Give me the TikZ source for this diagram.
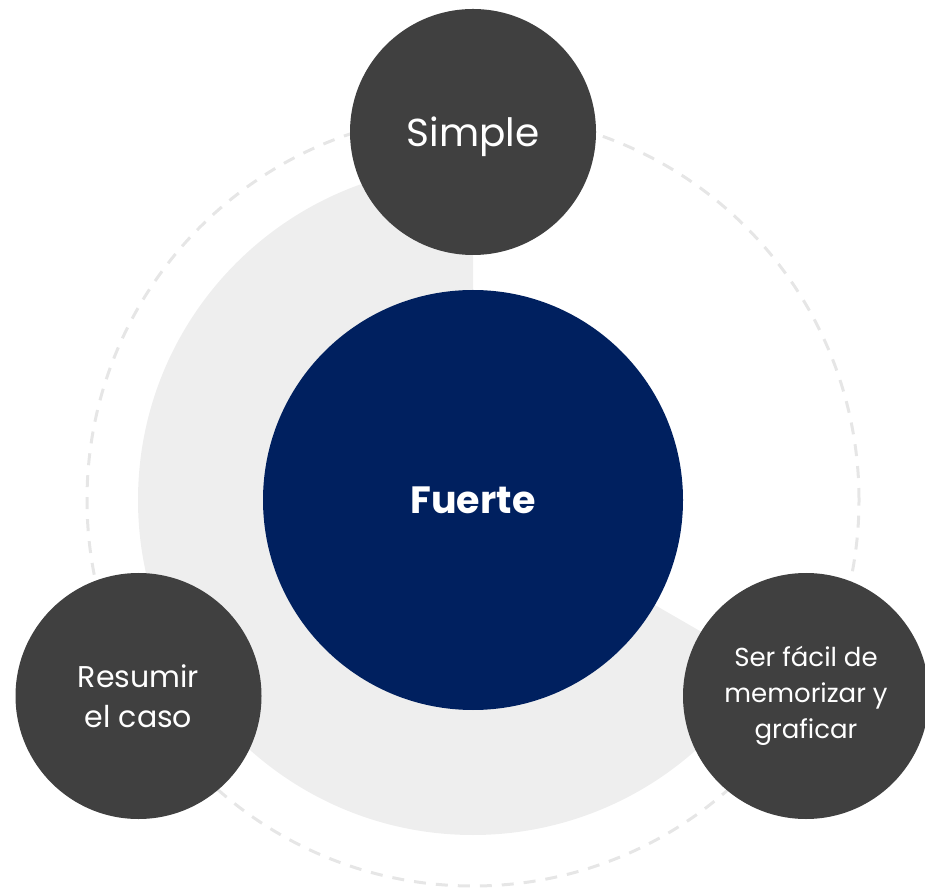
\documentclass[tikz,border=0pt]{standalone}
\usepackage{fontspec}
\setmainfont{Poppins}
\definecolor{navy}{HTML}{00205F}
\definecolor{darkgr}{HTML}{404040}
\definecolor{lightgr}{HTML}{EEEEEE}
\definecolor{dashgr}{HTML}{E6E6E6}
\begin{document}
\begin{tikzpicture}[x=1pt,y=1pt,
  sat/.style={circle,fill=darkgr,text=white,minimum size=246pt,inner sep=0pt,align=center},
  core/.style={circle,fill=navy,text=white,minimum size=420pt,inner sep=0pt,align=center,font=\fontsize{38}{45}\selectfont\bfseries}]
\useasboundingbox (0,0) rectangle (925,889);
\coordinate (c) at (473,389);
\draw[dashgr,line width=3pt,dash pattern=on 12pt off 10pt] (c) circle[radius=386];
\fill[lightgr] (c) -- ++(90:335) arc[start angle=90,end angle=330,radius=335] -- cycle;
\node[core] (fuerte) at (c) {Fuerte};
\node[sat,font=\fontsize{39}{45}\selectfont] (simple) at (473,757) {\raisebox{-5pt}[\height][\depth]{Simple}};
\node[sat,font=\fontsize{30}{40}\selectfont] (resumir) at (138.5,193) {Resumir\\el caso};
\node[sat,font=\fontsize{26}{36}\selectfont] (ser) at (806,193) {Ser fácil de\\memorizar y\\graficar};
\end{tikzpicture}
\end{document}
